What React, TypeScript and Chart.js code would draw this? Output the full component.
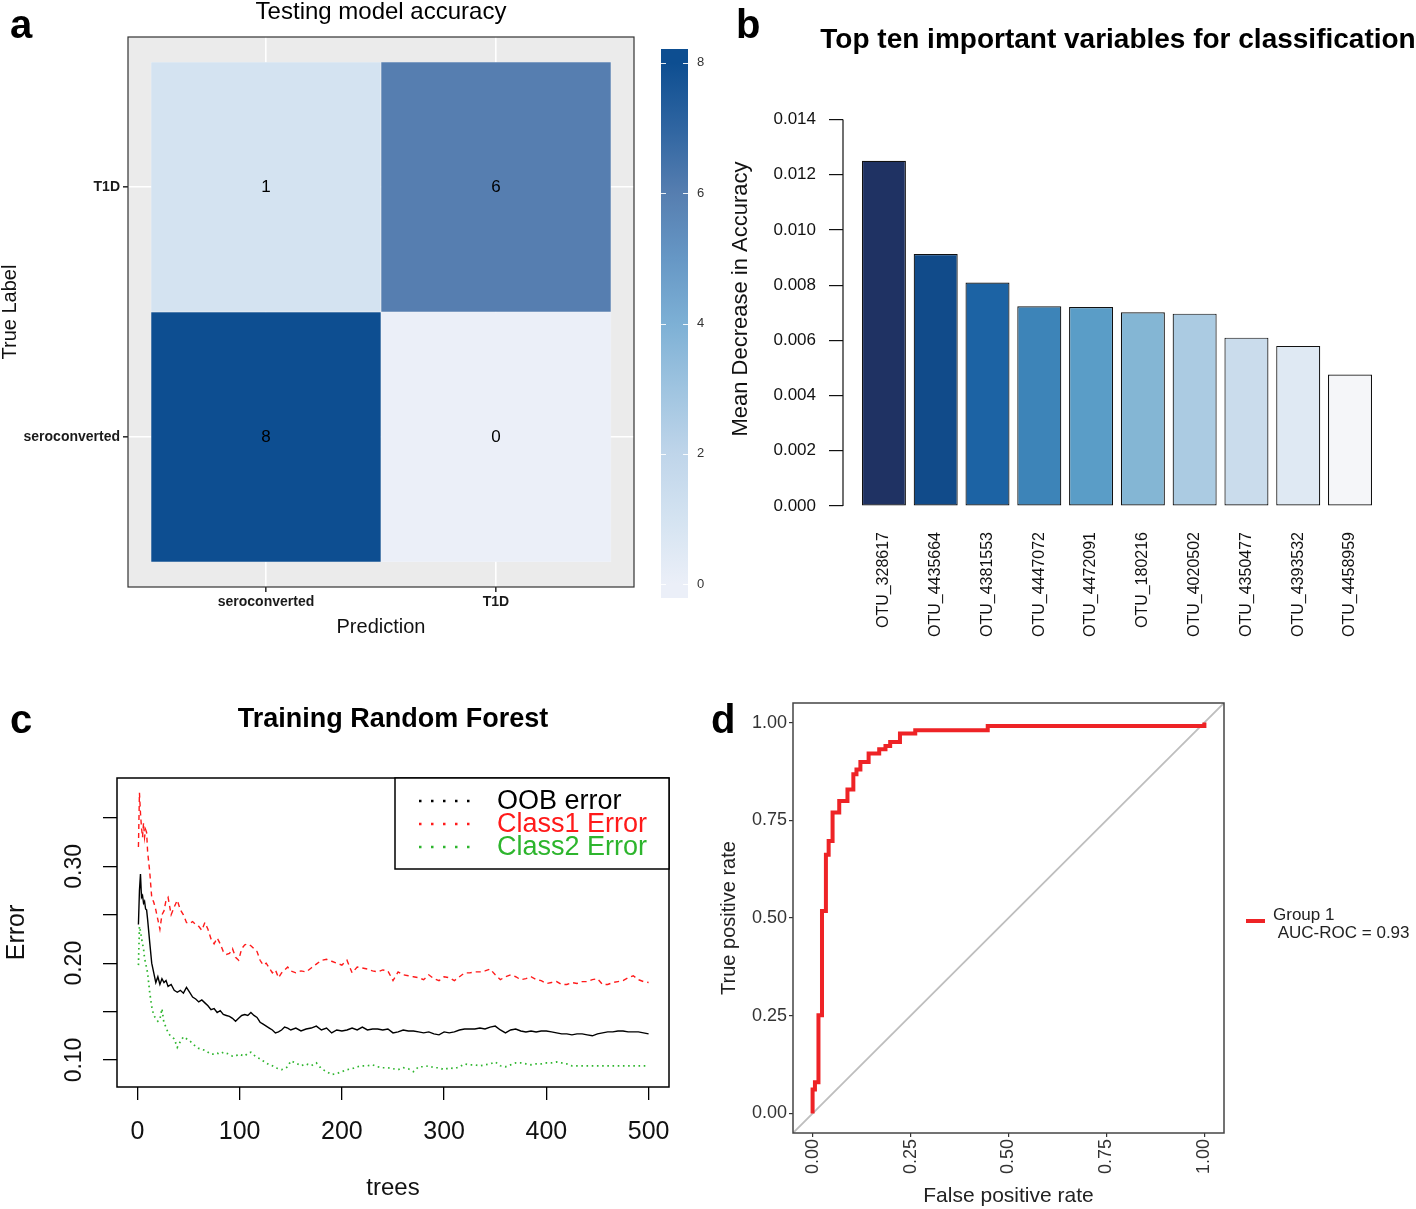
import React, { useEffect, useRef } from 'react';
import { Chart, registerables } from 'chart.js';

Chart.register(...registerables);

const FONT = "'Liberation Sans', Arial, Helvetica, sans-serif";

// ---------------- Panel a : confusion matrix ----------------
const predictionLabels = ['seroconverted', 'T1D'];
const trueLabelNames = ['seroconverted', 'T1D'];
const cellPrediction = [1, 2, 1, 2];
const cellTrue = [1, 1, 2, 2];
const cellCounts = [8, 0, 1, 6];
const colorbarBreaks = [0, 2, 4, 6, 8];
const heatStopValues = [0, 1, 2, 3, 4, 5, 6, 7, 8];
const heatStopColors = ['#EBEFF8', '#D4E3F1', '#BFD5EA', '#9FC4E0', '#7DB0D5', '#6697C5', '#567EB0', '#2F65A1', '#0D4E91'];

// ---------------- Panel b : variable importance ----------------
const otuNames = ['OTU_328617', 'OTU_4435664', 'OTU_4381553', 'OTU_4447072', 'OTU_4472091', 'OTU_180216', 'OTU_4020502', 'OTU_4350477', 'OTU_4393532', 'OTU_4458959'];
const otuImportance = [0.01251, 0.00913, 0.00810, 0.00724, 0.00721, 0.00702, 0.00697, 0.00610, 0.00580, 0.00476];
const otuColors = ['#1F3263', '#114B8A', '#1C63A4', '#3D84B8', '#5A9DC7', '#84B6D4', '#ABCBE2', '#CADCEC', '#DFE9F3', '#F5F6F9'];
const importanceTicks = [0, 0.002, 0.004, 0.006, 0.008, 0.010, 0.012, 0.014];

// ---------------- Panel c : random forest error ----------------
const trees = [
  1, 2, 3, 4, 5, 6, 7, 8, 9, 10,
  12, 14, 16, 18, 20, 22, 24, 26, 28, 30,
  33, 36, 39, 42, 45, 48, 51, 54, 57, 60,
  63, 66, 69, 72, 75, 78, 81, 84, 87, 90,
  93, 96, 99, 102, 105, 108, 111, 114, 117, 120,
  123, 126, 129, 132, 135, 138, 141, 144, 147, 150,
  155, 160, 165, 170, 175, 180, 185, 190, 195, 200,
  205, 210, 215, 220, 225, 230, 235, 240, 245, 250,
  255, 260, 265, 270, 275, 280, 285, 290, 295, 300,
  305, 310, 315, 320, 325, 330, 335, 340, 345, 350,
  355, 360, 365, 370, 375, 380, 385, 390, 395, 400,
  405, 410, 415, 420, 425, 430, 435, 440, 445, 450,
  455, 460, 465, 470, 475, 480, 485, 490, 495, 500,
];
const oobError = [
  0.240, 0.275, 0.292, 0.268, 0.270, 0.262, 0.264, 0.256, 0.255, 0.245,
  0.222, 0.200, 0.190, 0.180, 0.186, 0.178, 0.184, 0.180, 0.182, 0.176,
  0.178, 0.172, 0.170, 0.172, 0.169, 0.175, 0.170, 0.165, 0.163, 0.160,
  0.162, 0.159, 0.156, 0.152, 0.153, 0.149, 0.151, 0.147, 0.146, 0.145,
  0.143, 0.140, 0.143, 0.146, 0.147, 0.146, 0.149, 0.146, 0.144, 0.139,
  0.137, 0.135, 0.133, 0.131, 0.128, 0.129, 0.131, 0.134, 0.133, 0.131,
  0.133, 0.130, 0.132, 0.133, 0.135, 0.131, 0.133, 0.128, 0.131, 0.130,
  0.131, 0.133, 0.131, 0.134, 0.131, 0.132, 0.132, 0.131, 0.132, 0.128,
  0.129, 0.131, 0.130, 0.130, 0.129, 0.128, 0.129, 0.127, 0.126, 0.129,
  0.128, 0.129, 0.131, 0.132, 0.132, 0.132, 0.133, 0.132, 0.134, 0.135,
  0.131, 0.128, 0.131, 0.132, 0.130, 0.129, 0.130, 0.129, 0.130, 0.130,
  0.129, 0.128, 0.127, 0.127, 0.126, 0.127, 0.127, 0.126, 0.125, 0.127,
  0.128, 0.129, 0.129, 0.130, 0.130, 0.129, 0.129, 0.129, 0.128, 0.127,
];
const class1Error = [
  0.320, 0.376, 0.355, 0.340, 0.330, 0.345, 0.330, 0.338, 0.335, 0.315,
  0.295, 0.268, 0.263, 0.255, 0.245, 0.235, 0.250, 0.254, 0.265, 0.268,
  0.250, 0.258, 0.265, 0.255, 0.250, 0.242, 0.241, 0.243, 0.240, 0.238,
  0.234, 0.242, 0.235, 0.225, 0.220, 0.226, 0.220, 0.212, 0.209, 0.210,
  0.215, 0.206, 0.203, 0.215, 0.219, 0.220, 0.218, 0.215, 0.212, 0.203,
  0.198, 0.200, 0.195, 0.190, 0.193, 0.185, 0.190, 0.193, 0.196, 0.192,
  0.190, 0.192, 0.191, 0.195, 0.199, 0.203, 0.204, 0.202, 0.200, 0.198,
  0.203, 0.190, 0.196, 0.195, 0.194, 0.192, 0.191, 0.193, 0.192, 0.182,
  0.191, 0.188, 0.187, 0.186, 0.185, 0.183, 0.188, 0.184, 0.182, 0.186,
  0.185, 0.182, 0.186, 0.190, 0.190, 0.191, 0.191, 0.192, 0.194, 0.188,
  0.183, 0.186, 0.188, 0.186, 0.183, 0.184, 0.186, 0.183, 0.182, 0.179,
  0.180, 0.181, 0.178, 0.178, 0.180, 0.179, 0.181, 0.181, 0.183, 0.184,
  0.178, 0.178, 0.180, 0.181, 0.182, 0.185, 0.187, 0.183, 0.181, 0.180,
];
const class2Error = [
  0.198, 0.238, 0.233, 0.226, 0.220, 0.215, 0.205, 0.200, 0.195, 0.190,
  0.170, 0.155, 0.146, 0.143, 0.140, 0.142, 0.153, 0.138, 0.134, 0.128,
  0.124, 0.122, 0.113, 0.119, 0.124, 0.122, 0.120, 0.117, 0.114, 0.112,
  0.111, 0.110, 0.108, 0.106, 0.106, 0.107, 0.106, 0.108, 0.107, 0.106,
  0.104, 0.104, 0.106, 0.105, 0.104, 0.107, 0.108, 0.105, 0.103, 0.101,
  0.099, 0.097, 0.095, 0.094, 0.092, 0.091, 0.090, 0.091, 0.093, 0.099,
  0.097, 0.094, 0.096, 0.094, 0.097, 0.091, 0.088, 0.085, 0.086, 0.088,
  0.090, 0.091, 0.093, 0.094, 0.094, 0.095, 0.093, 0.092, 0.092, 0.091,
  0.090, 0.092, 0.091, 0.088, 0.093, 0.093, 0.094, 0.092, 0.092, 0.090,
  0.092, 0.091, 0.093, 0.096, 0.095, 0.095, 0.094, 0.095, 0.096, 0.098,
  0.094, 0.093, 0.095, 0.097, 0.097, 0.096, 0.095, 0.096, 0.096, 0.097,
  0.097, 0.098, 0.097, 0.096, 0.094, 0.094, 0.094, 0.094, 0.094, 0.094,
  0.094, 0.094, 0.094, 0.094, 0.094, 0.094, 0.094, 0.094, 0.094, 0.094,
];
const treeTicks = [0, 100, 200, 300, 400, 500];
const errorTicks = [0.10, 0.15, 0.20, 0.25, 0.30, 0.35];
const errorTickLabels = ['0.10', '', '0.20', '', '0.30', ''];
const forestLegend = ['OOB error', 'Class1 Error', 'Class2 Error'];
const forestColors = ['#000000', '#FF1A1A', '#2DB52D'];

// ---------------- Panel d : ROC ----------------
const rocFpr = [0, 0, 0.006, 0.015, 0.024, 0.034, 0.041, 0.051, 0.068, 0.089, 0.104, 0.112, 0.122, 0.143, 0.170, 0.186, 0.198, 0.223, 0.262, 0.447, 1.0];
const rocTpr = [0, 0.061, 0.080, 0.251, 0.518, 0.662, 0.697, 0.770, 0.799, 0.829, 0.868, 0.880, 0.899, 0.921, 0.932, 0.940, 0.950, 0.972, 0.980, 0.991, 1.0];
const chanceLine = [-0.05, 1.05];
const rateTicks = [0, 0.25, 0.5, 0.75, 1];
const rocLegend = ['Group 1', ' AUC-ROC = 0.93'];

// ---------------- helpers ----------------
function hexRgb(h: string) {
  const n = parseInt(h.slice(1), 16);
  return [(n >> 16) & 255, (n >> 8) & 255, n & 255];
}
function heatColor(v: number) {
  const vs = heatStopValues, cs = heatStopColors;
  if (v <= vs[0]) return cs[0];
  for (let i = 1; i < vs.length; i++) {
    if (v <= vs[i]) {
      const t = (v - vs[i - 1]) / (vs[i] - vs[i - 1]);
      const a = hexRgb(cs[i - 1]), b = hexRgb(cs[i]);
      return `rgb(${a.map((x, k) => Math.round(x + (b[k] - x) * t)).join(',')})`;
    }
  }
  return cs[cs.length - 1];
}
const font = (size: number, weight = 'normal', lineHeight = 1.2) => ({ size, weight, family: FONT, lineHeight });

function centerTitle(id: string, text: string, size: number, weight: string, y: number) {
  return {
    id,
    afterDraw(chart: any) {
      const { ctx, chartArea: a } = chart;
      ctx.save();
      ctx.font = `${weight} ${size}px ${FONT}`;
      ctx.fillStyle = '#000';
      ctx.textAlign = 'center';
      ctx.textBaseline = 'middle';
      ctx.fillText(text, (a.left + a.right) / 2, y);
      ctx.restore();
    },
  };
}
function boxPlugin(id: string, color: string, width: number) {
  return {
    id,
    afterDraw(chart: any) {
      const { ctx, chartArea: a } = chart;
      ctx.save();
      ctx.strokeStyle = color;
      ctx.lineWidth = width;
      ctx.strokeRect(a.left, a.top, a.right - a.left, a.bottom - a.top);
      ctx.restore();
    },
  };
}
const fixedTicks = (vals: number[]) => (s: any) => {
  s.ticks = vals.map((v) => ({ value: v }));
};

// ---------------- configs ----------------
function heatmapConfig(): any {
  const bg = {
    id: 'heatBg',
    beforeDraw(chart: any) {
      const { ctx, chartArea: a } = chart;
      ctx.save();
      ctx.fillStyle = '#EBEBEB';
      ctx.fillRect(a.left, a.top, a.right - a.left, a.bottom - a.top);
      ctx.restore();
    },
  };
  const cellText = {
    id: 'cellText',
    afterDatasetsDraw(chart: any) {
      const { ctx } = chart;
      const meta = chart.getDatasetMeta(0);
      ctx.save();
      ctx.font = `17px ${FONT}`;
      ctx.fillStyle = '#000';
      ctx.textAlign = 'center';
      ctx.textBaseline = 'middle';
      meta.data.forEach((el: any, i: number) => {
        const p = el.getProps(['x', 'y', 'base'], true);
        ctx.fillText(String(cellCounts[i]), p.x, (p.y + p.base) / 2);
      });
      ctx.restore();
    },
  };
  return {
    type: 'bar',
    data: {
      datasets: [{
        data: cellCounts.map((c, i) => ({ x: cellPrediction[i], y: [cellTrue[i] - 0.5, cellTrue[i] + 0.5] })),
        backgroundColor: cellCounts.map(heatColor),
        borderColor: 'rgba(255,255,255,0.55)',
        borderWidth: 0.6,
        borderSkipped: false,
        barPercentage: 1,
        categoryPercentage: 1,
      }],
    },
    options: {
      responsive: false, animation: false, devicePixelRatio: 1, events: [],
      layout: { padding: { left: 0, top: 37, right: 6, bottom: 0 } },
      plugins: { legend: { display: false }, tooltip: { enabled: false } },
      scales: {
        x: {
          type: 'linear', min: 0.4, max: 2.6, offset: false,
          afterBuildTicks: fixedTicks(predictionLabels.map((_, i) => i + 1)),
          afterFit: (s: any) => { s.height = 63; },
          ticks: { callback: (v: number) => predictionLabels[Math.round(v) - 1] ?? '', font: font(14, 'bold'), color: '#1a1a1a', padding: 2, maxRotation: 0, autoSkip: false },
          grid: { color: '#FFFFFF', lineWidth: 1.6, tickColor: '#333', tickLength: 5, offset: false },
          border: { display: false },
          title: { display: true, text: 'Prediction', font: font(20), color: '#111', padding: { top: 0, bottom: 11 } },
        },
        y: {
          type: 'linear', min: 0.4, max: 2.6,
          afterBuildTicks: fixedTicks(trueLabelNames.map((_, i) => i + 1)),
          afterFit: (s: any) => { s.width = 128; },
          ticks: { callback: (v: number) => trueLabelNames[Math.round(v) - 1] ?? '', font: font(14, 'bold'), color: '#1a1a1a', padding: 3, autoSkip: false },
          grid: { color: '#FFFFFF', lineWidth: 1.6, tickColor: '#333', tickLength: 5, offset: false },
          border: { display: false },
          title: { display: true, text: 'True Label', font: font(20, 'normal', 1), color: '#111', padding: { top: 0, bottom: 0 } },
        },
      },
    },
    plugins: [bg, cellText, boxPlugin('heatBox', '#333', 1.2), centerTitle('heatTitle', 'Testing model accuracy', 24, 'normal', 12)],
  };
}

function colorbarConfig(): any {
  const lo = colorbarBreaks[0], hi = colorbarBreaks[colorbarBreaks.length - 1];
  const pad = ((hi - lo) * 0.025) / 0.95;
  const cbTicks = {
    id: 'cbTicks',
    afterDatasetsDraw(chart: any) {
      const { ctx, chartArea: a, scales } = chart;
      ctx.save();
      ctx.strokeStyle = 'rgba(255,255,255,0.9)';
      ctx.lineWidth = 1;
      colorbarBreaks.forEach((v) => {
        const y = Math.round(scales.y.getPixelForValue(v)) + 0.5;
        ctx.beginPath();
        ctx.moveTo(a.left, y); ctx.lineTo(a.left + 5, y);
        ctx.moveTo(a.right - 5, y); ctx.lineTo(a.right, y);
        ctx.stroke();
      });
      ctx.restore();
    },
  };
  return {
    type: 'bar',
    data: {
      labels: ['n'],
      datasets: [{
        data: [[lo - pad, hi + pad]],
        backgroundColor: (c: any) => {
          const ch = c.chart;
          if (!ch.chartArea) return heatStopColors[0];
          const ys = ch.scales.y;
          const v0 = heatStopValues[0], vN = heatStopValues[heatStopValues.length - 1];
          const g = ch.ctx.createLinearGradient(0, ys.getPixelForValue(v0), 0, ys.getPixelForValue(vN));
          heatStopValues.forEach((v, i) => g.addColorStop((v - v0) / (vN - v0), heatStopColors[i]));
          return g;
        },
        borderWidth: 0,
        barPercentage: 1,
        categoryPercentage: 1,
      }],
    },
    options: {
      responsive: false, animation: false, devicePixelRatio: 1, events: [],
      layout: { padding: { left: 21, top: 19, right: 0, bottom: 22 } },
      plugins: { legend: { display: false }, tooltip: { enabled: false } },
      scales: {
        x: { display: false },
        y: {
          position: 'right', min: lo - pad, max: hi + pad,
          afterBuildTicks: fixedTicks(colorbarBreaks),
          afterFit: (s: any) => { s.width = 32; },
          ticks: { font: font(13), color: '#333', padding: 9, callback: (v: number) => String(v) },
          grid: { display: false, drawTicks: false },
          border: { display: false },
        },
      },
    },
    plugins: [cbTicks],
  };
}

function importanceConfig(): any {
  const axisLine = {
    id: 'impAxis',
    afterDraw(chart: any) {
      const { ctx, chartArea: a, scales } = chart;
      ctx.save();
      ctx.strokeStyle = '#111';
      ctx.lineWidth = 1.2;
      ctx.beginPath();
      ctx.moveTo(a.left, scales.y.getPixelForValue(importanceTicks[0]));
      ctx.lineTo(a.left, scales.y.getPixelForValue(importanceTicks[importanceTicks.length - 1]));
      ctx.stroke();
      ctx.restore();
    },
  };
  return {
    type: 'bar',
    data: {
      datasets: [{
        data: otuImportance.map((v, i) => ({ x: i + 1, y: v })),
        backgroundColor: otuColors,
        borderColor: '#111',
        borderWidth: 1.2,
        borderSkipped: false,
        barPercentage: 0.85,
        categoryPercentage: 1,
      }],
    },
    options: {
      responsive: false, animation: false, devicePixelRatio: 1, events: [],
      layout: { padding: { left: 0, top: 92, right: 23, bottom: 0 } },
      plugins: { legend: { display: false }, tooltip: { enabled: false } },
      scales: {
        x: {
          type: 'linear', min: 0.21, max: 10.83, offset: false,
          afterBuildTicks: fixedTicks(otuNames.map((_, i) => i + 1)),
          afterFit: (s: any) => { s.height = 144; },
          ticks: { callback: (v: number) => otuNames[Math.round(v) - 1] ?? '', minRotation: 90, maxRotation: 90, autoSkip: false, font: font(16), color: '#111', padding: 26 },
          grid: { display: false, drawTicks: false, offset: false },
          border: { display: false },
        },
        y: {
          min: 0, max: 0.015,
          afterBuildTicks: fixedTicks(importanceTicks),
          afterFit: (s: any) => { s.width = 123; },
          ticks: { callback: (v: number) => Number(v).toFixed(3), font: font(17), color: '#111', padding: 13 },
          grid: { drawOnChartArea: false, color: '#111', tickLength: 14, lineWidth: 1.2 },
          border: { display: false },
          title: { display: true, text: 'Mean Decrease in Accuracy', font: font(22), color: '#111', padding: { top: 8, bottom: 0 } },
        },
      },
    },
    plugins: [axisLine, centerTitle('impTitle', 'Top ten important variables for classification', 28, 'bold', 40)],
  };
}

function forestConfig(): any {
  const yLabels = {
    id: 'errLabels',
    afterDraw(chart: any) {
      const { ctx, chartArea: a, scales } = chart;
      ctx.save();
      ctx.font = `23px ${FONT}`;
      ctx.fillStyle = '#111';
      ctx.textAlign = 'center';
      ctx.textBaseline = 'middle';
      errorTicks.forEach((v, i) => {
        const lbl = errorTickLabels[i];
        if (!lbl) return;
        ctx.save();
        ctx.translate(a.left - 42, scales.y.getPixelForValue(v));
        ctx.rotate(-Math.PI / 2);
        ctx.fillText(lbl, 0, 0);
        ctx.restore();
      });
      ctx.restore();
    },
  };
  const legend = {
    id: 'forestLegend',
    afterDraw(chart: any) {
      const { ctx, chartArea: a } = chart;
      const w = 274, h = 91;
      const left = a.right - w, top = a.top;
      ctx.save();
      ctx.fillStyle = '#fff';
      ctx.fillRect(left, top, w, h);
      ctx.strokeStyle = '#000';
      ctx.lineWidth = 1.5;
      ctx.strokeRect(left, top, w, h);
      chart.data.datasets.forEach((ds: any, i: number) => {
        const yy = top + 23 + i * 23;
        ctx.setLineDash([2.5, 9.5]);
        ctx.strokeStyle = ds.borderColor;
        ctx.lineWidth = 2.5;
        ctx.beginPath();
        ctx.moveTo(left + 24, yy);
        ctx.lineTo(left + 76, yy);
        ctx.stroke();
        ctx.setLineDash([]);
        ctx.fillStyle = ds.borderColor;
        ctx.font = `27px ${FONT}`;
        ctx.textAlign = 'left';
        ctx.textBaseline = 'middle';
        ctx.fillText(ds.label, left + 102, yy + 1);
      });
      ctx.restore();
    },
  };
  const series = [oobError, class1Error, class2Error];
  const dashes = [[], [5, 4], [1.6, 3.6]];
  return {
    type: 'line',
    data: {
      datasets: series.map((s, k) => ({
        label: forestLegend[k],
        data: trees.map((t, i) => ({ x: t, y: s[i] })),
        borderColor: forestColors[k],
        borderWidth: k === 2 ? 1.7 : 1.4,
        borderDash: dashes[k],
        pointRadius: 0,
        tension: 0,
      })),
    },
    options: {
      responsive: false, animation: false, devicePixelRatio: 1, events: [],
      layout: { padding: { left: 0, top: 118, right: 31, bottom: 0 } },
      plugins: { legend: { display: false }, tooltip: { enabled: false } },
      scales: {
        x: {
          type: 'linear', min: -19.96, max: 519.96,
          afterBuildTicks: fixedTicks(treeTicks),
          afterFit: (s: any) => { s.height = 122; },
          ticks: { callback: (v: number) => String(v), font: font(25), color: '#111', padding: 17, maxRotation: 0 },
          grid: { drawOnChartArea: false, color: '#000', tickLength: 13, lineWidth: 1.3 },
          border: { display: false },
          title: { display: true, text: 'trees', font: font(24), color: '#111', padding: { top: 0, bottom: 6 } },
        },
        y: {
          type: 'linear', min: 0.0721, max: 0.3913,
          afterBuildTicks: fixedTicks(errorTicks),
          afterFit: (s: any) => { s.width = 117; },
          ticks: { callback: () => '' },
          grid: { drawOnChartArea: false, color: '#000', tickLength: 14, lineWidth: 1.3 },
          border: { display: false },
          title: { display: true, text: 'Error', font: font(25), color: '#111', padding: { top: 2, bottom: 0 } },
        },
      },
    },
    plugins: [boxPlugin('forestBox', '#000', 1.5), yLabels, legend, centerTitle('forestTitle', 'Training Random Forest', 27, 'bold', 60)],
  };
}

function rocConfig(): any {
  const legend = {
    id: 'rocLegend',
    afterDraw(chart: any) {
      const { ctx, chartArea: a } = chart;
      const mid = (a.top + a.bottom) / 2;
      ctx.save();
      ctx.strokeStyle = chart.data.datasets[0].borderColor;
      ctx.lineWidth = 4;
      ctx.beginPath();
      ctx.moveTo(a.right + 22, mid + 3);
      ctx.lineTo(a.right + 41, mid + 3);
      ctx.stroke();
      ctx.font = `17px ${FONT}`;
      ctx.fillStyle = '#222';
      ctx.textAlign = 'left';
      ctx.textBaseline = 'middle';
      rocLegend.forEach((t, i) => ctx.fillText(t, a.right + 49, mid - 3 + i * 18));
      ctx.restore();
    },
  };
  return {
    type: 'line',
    data: {
      datasets: [
        {
          label: 'Group 1',
          data: rocFpr.map((x, i) => ({ x, y: rocTpr[i] })),
          borderColor: '#EE2326',
          borderWidth: 4,
          stepped: 'before',
          pointRadius: 0,
        },
        {
          label: 'chance',
          data: chanceLine.map((v) => ({ x: v, y: v })),
          borderColor: '#BEBEBE',
          borderWidth: 1.8,
          pointRadius: 0,
        },
      ],
    },
    options: {
      responsive: false, animation: false, devicePixelRatio: 1, events: [],
      layout: { padding: { left: 0, top: 13, right: 192, bottom: 0 } },
      plugins: { legend: { display: false }, tooltip: { enabled: false } },
      scales: {
        x: {
          type: 'linear', min: -0.05, max: 1.05,
          afterBuildTicks: fixedTicks(rateTicks),
          afterFit: (s: any) => { s.height = 76; },
          ticks: { callback: (v: number) => Number(v).toFixed(2), minRotation: 90, maxRotation: 90, font: font(18), color: '#333', padding: 2, autoSkip: false },
          grid: { drawOnChartArea: false, color: '#333', tickLength: 4, lineWidth: 1.2 },
          border: { display: false },
          title: { display: true, text: 'False positive rate', font: font(21), color: '#222', padding: { top: 0, bottom: 0 } },
        },
        y: {
          type: 'linear', min: -0.05, max: 1.05,
          afterBuildTicks: fixedTicks(rateTicks),
          afterFit: (s: any) => { s.width = 93; },
          ticks: { callback: (v: number) => Number(v).toFixed(2), font: font(18), color: '#333', padding: 2 },
          grid: { drawOnChartArea: false, color: '#333', tickLength: 4, lineWidth: 1.2 },
          border: { display: false },
          title: { display: true, text: 'True positive rate', font: font(20), color: '#222', padding: { top: 17, bottom: 0 } },
        },
      },
    },
    plugins: [boxPlugin('rocBox', '#444', 1.5), legend],
  };
}

// ---------------- components ----------------
function ChartCanvas({ x, y, w, h, build }: { x: number; y: number; w: number; h: number; build: () => any }) {
  const ref = useRef<HTMLCanvasElement>(null);
  useEffect(() => {
    const chart = new Chart(ref.current as HTMLCanvasElement, build());
    return () => chart.destroy();
  }, []);
  return <canvas ref={ref} width={w} height={h} style={{ position: 'absolute', left: x, top: y, width: w, height: h }} />;
}

const letterStyle = (left: number, top: number): React.CSSProperties => ({
  position: 'absolute', left, top, fontFamily: FONT, fontWeight: 'bold', fontSize: 40, lineHeight: '40px', color: '#000',
});

export default function App() {
  return (
    <div style={{ position: 'absolute', left: 0, top: 0, width: 1416, height: 1209, background: '#fff', overflow: 'hidden' }}>
      <ChartCanvas x={0} y={0} w={640} h={650} build={heatmapConfig} />
      <ChartCanvas x={640} y={30} w={80} h={590} build={colorbarConfig} />
      <ChartCanvas x={720} y={0} w={696} h={650} build={importanceConfig} />
      <ChartCanvas x={0} y={660} w={700} h={549} build={forestConfig} />
      <ChartCanvas x={700} y={690} w={716} h={519} build={rocConfig} />
      <div style={letterStyle(10, 4)}>a</div>
      <div style={letterStyle(736, 4)}>b</div>
      <div style={letterStyle(10, 699)}>c</div>
      <div style={letterStyle(711, 699)}>d</div>
    </div>
  );
}
